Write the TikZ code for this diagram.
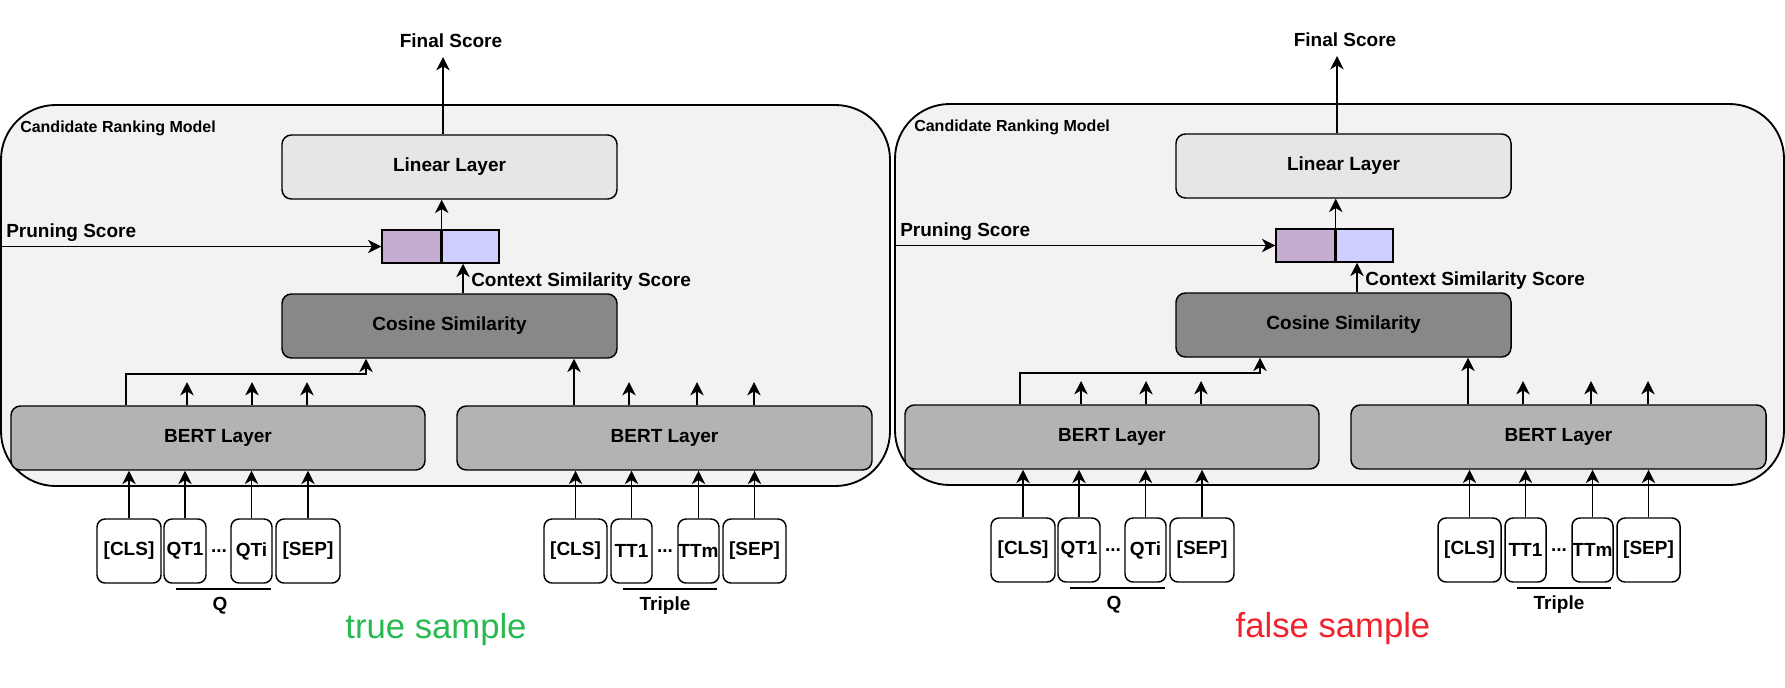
\documentclass[tikz,border=0pt]{standalone}
\usepackage{fontspec}
\setmainfont{Liberation Sans}
\usetikzlibrary{arrows.meta}
\definecolor{outerfill}{HTML}{F2F2F2}
\definecolor{linfill}{HTML}{E6E6E6}
\definecolor{cosfill}{HTML}{888888}
\definecolor{bertfill}{HTML}{B3B3B3}
\definecolor{purp}{HTML}{C4ADD0}
\definecolor{lav}{HTML}{CFCFFF}
\definecolor{tgreen}{RGB}{40,185,80}
\definecolor{fred}{RGB}{240,35,45}
\tikzset{
  bw/.style={minimum width=#1*0.75pt},
  bh/.style={minimum height=#1*0.75pt},
  lblfont/.style={font=\fontsize{14.25}{17}\selectfont\bfseries},
  lbl/.style={lblfont, inner sep=0},
  blk/.style={draw, line width=1.1pt, rounded corners=7pt, inner sep=0, lblfont},
  outerbox/.style={draw, line width=1.4pt, rounded corners=41pt, fill=outerfill, inner sep=0},
  tok/.style={blk, fill=white, rounded corners=6pt, bw=#1, bh=64},
  cell/.style={draw, line width=1.1pt, inner sep=0},
  arr/.style={line width=1.1pt, -{Stealth[length=10pt,width=10pt,inset=3pt]}},
  uline/.style={line width=1.1pt},
  samplefont/.style={font=\fontsize{26}{30}\selectfont, inner sep=0}
}
\newcommand\drawpanel[6]{%
\begin{scope}[shift={(#1,#2)}]
  \node[outerbox, bw=889, bh=381] (#3out) at (445.5,295.5) {};
  \node[lbl, anchor=base west, font=\fontsize{12}{14}\selectfont\bfseries] (#3crm) at (20,132) {Candidate Ranking Model};
  \node[blk, fill=linfill, bw=335, bh=64] (#3lin) at (449.5,167) {Linear Layer};
  \node[blk, fill=cosfill, bw=335, bh=64] (#3cos) at (449.5,326) {Cosine Similarity};
  \node[cell, fill=purp, bw=59, bh=33] (#3cl) at (411.5,246.5) {};
  \node[cell, fill=lav, bw=58, bh=33] (#3cr) at (470,246.5) {};
  \draw[line width=1.5pt] (#3cl.north east) -- (#3cl.south east);
  \node[blk, fill=bertfill, bw=414, bh=64] (#3bq) at (218,438) {BERT Layer};
  \node[blk, fill=bertfill, bw=415, bh=64] (#3bt) at (664.5,438) {BERT Layer};
  \node[tok=64] (#3qcls) at (129,551) {[CLS]};
  \node[tok=42] (#3qt1) at (185,551) {QT1};
  \node[tok=41] (#3qti) at (251.5,551) {QTi};
  \node[tok=64] (#3qsep) at (308,551) {[SEP]};
  \node[lbl] (#3qdots) at (219,551) {...};
  \node[tok=63] (#3tcls) at (575.5,551) {[CLS]};
  \node[tok=41] (#3tt1) at (631.5,551) {TT1};
  \node[tok=41] (#3ttm) at (698.5,551) {TTm};
  \node[tok=63] (#3tsep) at (754.5,551) {[SEP]};
  \node[lbl] (#3tdots) at (665,551) {...};
  \coordinate (#3qa) at (176,589); \coordinate (#3qb) at (271,589);
  \draw[uline] (#3qa) -- (#3qb);
  \node[lbl, anchor=base] (#3q) at (220,610) {Q};
  \coordinate (#3ta) at (623,589); \coordinate (#3tb) at (717,589);
  \draw[uline] (#3ta) -- (#3tb);
  \node[lbl, anchor=base] (#3tr) at (665,610) {Triple};
  \draw[arr] (#3qcls.north) -- (#3qcls.north |- #3bq.south);
  \draw[arr] (#3qt1.north) -- (#3qt1.north |- #3bq.south);
  \draw[arr] (#3qti.north) -- (#3qti.north |- #3bq.south);
  \draw[arr] (#3qsep.north) -- (#3qsep.north |- #3bq.south);
  \draw[arr] (#3tcls.north) -- (#3tcls.north |- #3bt.south);
  \draw[arr] (#3tt1.north) -- (#3tt1.north |- #3bt.south);
  \draw[arr] (#3ttm.north) -- (#3ttm.north |- #3bt.south);
  \draw[arr] (#3tsep.north) -- (#3tsep.north |- #3bt.south);
  \coordinate (#3qo1) at (187,382); \draw[arr] (#3qo1 |- #3bq.north) -- (#3qo1);
  \coordinate (#3qo2) at (252,382); \draw[arr] (#3qo2 |- #3bq.north) -- (#3qo2);
  \coordinate (#3qo3) at (307,382); \draw[arr] (#3qo3 |- #3bq.north) -- (#3qo3);
  \coordinate (#3to1) at (629,382); \draw[arr] (#3to1 |- #3bt.north) -- (#3to1);
  \coordinate (#3to2) at (697,382); \draw[arr] (#3to2 |- #3bt.north) -- (#3to2);
  \coordinate (#3to3) at (754,382); \draw[arr] (#3to3 |- #3bt.north) -- (#3to3);
  \coordinate (#3pa) at (126,374); \coordinate (#3pb) at (366,374);
  \draw[arr] (#3pa |- #3bq.north) -- (#3pa) -- (#3pb) -- (#3pb |- #3cos.south);
  \coordinate (#3pc) at (574,400);
  \draw[arr] (#3pc |- #3bt.north) -- (#3pc |- #3cos.south);
  \coordinate (#3ctx) at (463,280);
  \draw[arr] (#3ctx |- #3cos.north) -- (#3ctx |- #3cr.south);
  \node[lbl, anchor=base west] (#3ctxl) at (471,286.5) {Context Similarity Score};
  \draw[arr] (#3cl.north east) -- (#3cl.north east |- #3lin.south);
  \draw[arr] (#3out.west |- #3cl.west) -- (#3cl.west);
  \node[lbl, anchor=base west] (#3prl) at (6,237) {Pruning Score};
  \coordinate (#3fs) at (443,57);
  \draw[arr] (#3fs |- #3lin.north) -- (#3fs);
  \node[lbl, anchor=base] (#3fsl) at (451,47) {Final Score};
  \node[samplefont, anchor=base, text=#5] (#3smp) at (#6,638) {#4};
\end{scope}}
\begin{document}
\begin{tikzpicture}[x=0.75pt, y=-0.75pt]
  \useasboundingbox (0,0) rectangle (1785,687);
  \drawpanel{0}{0}{L}{true sample}{tgreen}{436}
  \drawpanel{894}{-1}{R}{false sample}{fred}{439}
\end{tikzpicture}
\end{document}
